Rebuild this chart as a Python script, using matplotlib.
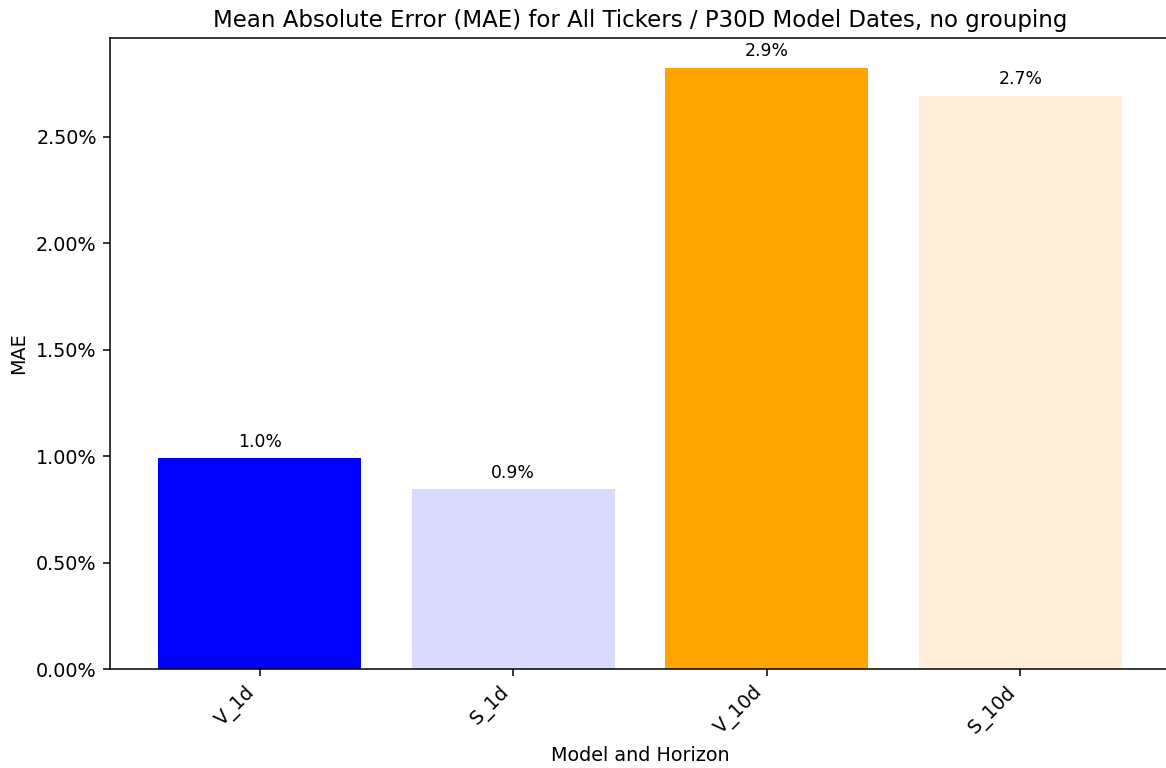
import matplotlib
matplotlib.use("Agg")
import matplotlib.pyplot as plt
from matplotlib.ticker import PercentFormatter

# Data
##########################################
models = ["V_1d", "S_1d", "V_10d", "S_10d"]
mae = [0.00990, 0.00845, 0.02824, 0.02692]
bar_labels = ["1.0%", "0.9%", "2.9%", "2.7%"]
bar_colors = ["blue", "#dadaff", "orange", "#ffefda"]

DPI = 137.5
W, H = 1167, 768

fig = plt.figure(figsize=(W / DPI, H / DPI), dpi=DPI)
ax = fig.add_axes([110 / W, 1 - 669 / H, 1060 / W, (669 - 38) / H])

x = range(len(models))
bars = ax.bar(x, mae, color=bar_colors, width=0.8)
for b, lab in zip(bars, bar_labels):
    ax.annotate(lab, (b.get_x() + b.get_width() / 2, b.get_height()),
                xytext=(0, 4), textcoords="offset points",
                ha="center", va="bottom", fontsize=9)

ax.set_xticks(list(x))
ax.set_xticklabels(models, rotation=45, ha="right")
ax.yaxis.set_major_formatter(PercentFormatter(1, decimals=2))
ax.set_xlabel("Model and Horizon")
ax.set_ylabel("MAE")
ax.set_title("Mean Absolute Error (MAE) for All Tickers / P30D Model Dates, no grouping", fontsize=12)
ax.spines["right"].set_visible(False)

fig.savefig("out.png", dpi=DPI)
